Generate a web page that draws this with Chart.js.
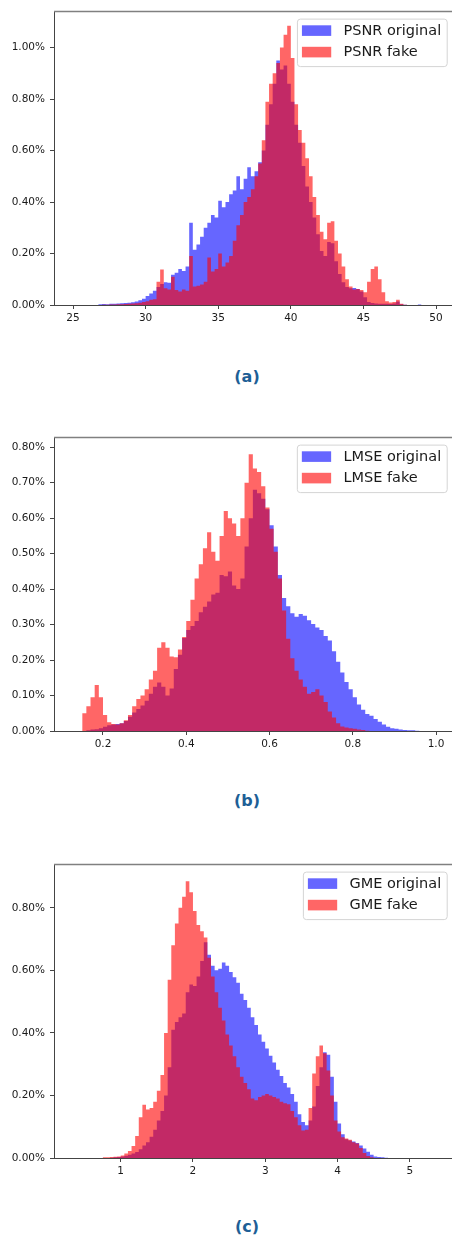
<!DOCTYPE html>
<html>
<head>
<meta charset="utf-8">
<script src="https://cdn.jsdelivr.net/npm/chart.js@4.4.1/dist/chart.umd.min.js"></script>
<style>
  body { margin: 0; background: #fff; width: 452px; height: 1239px; overflow: hidden; position: relative; }
  .panel { position: absolute; left: 0; width: 452px; height: 330px; }
  .caption { position: absolute; left: 200px; width: 94px; text-align: center; font: bold 16px "DejaVu Sans"; color: #1e5f96; line-height: 20px; }
</style>
</head>
<body>
<div class="panel" style="top:0px"><canvas id="psnrChart" width="452" height="330"></canvas></div>
<div class="caption" style="top:367px">(a)</div>
<div class="panel" style="top:426px"><canvas id="lmseChart" width="452" height="330"></canvas></div>
<div class="caption" style="top:791px">(b)</div>
<div class="panel" style="top:853px"><canvas id="gmeChart" width="452" height="330"></canvas></div>
<div class="caption" style="top:1217px">(c)</div>
<script>
// ---- (a) PSNR: left edges of the bins, percent per bin
const psnrBins = [
  26.5, 26.75, 27, 27.25, 27.5, 27.75, 28, 28.25, 28.5, 28.75,
  29, 29.25, 29.5, 29.75, 30, 30.25, 30.5, 30.75, 31, 31.25,
  31.5, 31.75, 32, 32.25, 32.5, 32.75, 33, 33.25, 33.5, 33.75,
  34, 34.25, 34.5, 34.75, 35, 35.25, 35.5, 35.75, 36, 36.25,
  36.5, 36.75, 37, 37.25, 37.5, 37.75, 38, 38.25, 38.5, 38.75,
  39, 39.25, 39.5, 39.75, 40, 40.25, 40.5, 40.75, 41, 41.25,
  41.5, 41.75, 42, 42.25, 42.5, 42.75, 43, 43.25, 43.5, 43.75,
  44, 44.25, 44.5, 44.75, 45, 45.25, 45.5, 45.75, 46, 46.25,
  46.5, 46.75, 47, 47.25, 47.5, 47.75, 48, 48.25, 48.5, 48.75
];
const psnrOriginal = [
  0.000, 0.003, 0.004, 0.003, 0.005, 0.005, 0.006, 0.007, 0.008, 0.009,
  0.011, 0.014, 0.018, 0.024, 0.035, 0.045, 0.055, 0.070, 0.082, 0.088,
  0.086, 0.118, 0.125, 0.140, 0.132, 0.150, 0.320, 0.215, 0.235, 0.265,
  0.300, 0.320, 0.350, 0.340, 0.405, 0.380, 0.400, 0.430, 0.445, 0.500,
  0.450, 0.490, 0.535, 0.500, 0.520, 0.555, 0.600, 0.700, 0.780, 0.860,
  0.950, 0.915, 0.930, 0.860, 0.790, 0.700, 0.630, 0.540, 0.460, 0.400,
  0.340, 0.275, 0.210, 0.190, 0.245, 0.240, 0.170, 0.120, 0.088, 0.070,
  0.065, 0.066, 0.062, 0.052, 0.030, 0.012, 0.008, 0.006, 0.005, 0.005,
  0.005, 0.004, 0.006, 0.014, 0.003, 0.001, 0.000, 0.000, 0.000, 0.002
];
const psnrFake = [
  0.000, 0.000, 0.001, 0.001, 0.002, 0.002, 0.003, 0.003, 0.004, 0.005,
  0.006, 0.007, 0.009, 0.012, 0.015, 0.020, 0.022, 0.090, 0.138, 0.065,
  0.060, 0.110, 0.058, 0.052, 0.060, 0.055, 0.190, 0.072, 0.075, 0.080,
  0.090, 0.185, 0.130, 0.140, 0.200, 0.150, 0.165, 0.190, 0.250, 0.310,
  0.350, 0.400, 0.420, 0.450, 0.500, 0.550, 0.640, 0.790, 0.860, 0.900,
  0.940, 1.000, 1.050, 1.085, 0.960, 0.780, 0.680, 0.630, 0.570, 0.500,
  0.420, 0.350, 0.285, 0.255, 0.320, 0.325, 0.250, 0.200, 0.150, 0.100,
  0.072, 0.060, 0.062, 0.058, 0.050, 0.090, 0.140, 0.150, 0.100, 0.050,
  0.015, 0.010, 0.012, 0.020, 0.005, 0.001, 0.000, 0.000, 0.000, 0.000
];
const psnrXTicks = [25, 30, 35, 40, 45, 50];
const psnrXLabels = ['25', '30', '35', '40', '45', '50'];
const psnrYTicks = [0, 0.2, 0.4, 0.6, 0.8, 1.0];
const psnrYLabels = ['0.00%', '0.20%', '0.40%', '0.60%', '0.80%', '1.00%'];

// ---- (b) LMSE
const lmseBins = [
  0.15, 0.16, 0.17, 0.18, 0.19, 0.20, 0.21, 0.22, 0.23, 0.24,
  0.25, 0.26, 0.27, 0.28, 0.29, 0.30, 0.31, 0.32, 0.33, 0.34,
  0.35, 0.36, 0.37, 0.38, 0.39, 0.40, 0.41, 0.42, 0.43, 0.44,
  0.45, 0.46, 0.47, 0.48, 0.49, 0.50, 0.51, 0.52, 0.53, 0.54,
  0.55, 0.56, 0.57, 0.58, 0.59, 0.60, 0.61, 0.62, 0.63, 0.64,
  0.65, 0.66, 0.67, 0.68, 0.69, 0.70, 0.71, 0.72, 0.73, 0.74,
  0.75, 0.76, 0.77, 0.78, 0.79, 0.80, 0.81, 0.82, 0.83, 0.84,
  0.85, 0.86, 0.87, 0.88, 0.89, 0.90, 0.91, 0.92, 0.93, 0.94,
  0.95, 0.96
];
const lmseOriginal = [
  0.000, 0.002, 0.004, 0.005, 0.008, 0.012, 0.016, 0.018, 0.020, 0.022,
  0.028, 0.040, 0.052, 0.062, 0.072, 0.085, 0.105, 0.125, 0.137, 0.125,
  0.100, 0.120, 0.175, 0.215, 0.262, 0.285, 0.296, 0.310, 0.335, 0.350,
  0.365, 0.385, 0.390, 0.440, 0.436, 0.450, 0.410, 0.400, 0.430, 0.520,
  0.600, 0.680, 0.670, 0.655, 0.625, 0.580, 0.520, 0.440, 0.375, 0.352,
  0.332, 0.322, 0.330, 0.325, 0.312, 0.302, 0.292, 0.285, 0.268, 0.255,
  0.225, 0.195, 0.165, 0.138, 0.118, 0.095, 0.075, 0.060, 0.048, 0.043,
  0.034, 0.026, 0.018, 0.012, 0.008, 0.006, 0.004, 0.003, 0.002, 0.002,
  0.001, 0.000
];
const lmseFake = [
  0.050, 0.070, 0.095, 0.130, 0.095, 0.045, 0.025, 0.020, 0.018, 0.022,
  0.030, 0.045, 0.070, 0.090, 0.100, 0.118, 0.145, 0.170, 0.235, 0.250,
  0.235, 0.210, 0.208, 0.230, 0.265, 0.310, 0.370, 0.430, 0.470, 0.515,
  0.560, 0.505, 0.480, 0.550, 0.620, 0.600, 0.585, 0.550, 0.600, 0.700,
  0.780, 0.740, 0.730, 0.690, 0.630, 0.570, 0.505, 0.430, 0.340, 0.260,
  0.205, 0.170, 0.145, 0.125, 0.105, 0.110, 0.118, 0.100, 0.082, 0.055,
  0.038, 0.022, 0.013, 0.010, 0.008, 0.006, 0.004, 0.003, 0.001, 0.000,
  0.000, 0.000, 0.000, 0.000, 0.000, 0.000, 0.000, 0.000, 0.000, 0.000,
  0.000, 0.000
];
const lmseXTicks = [0.2, 0.4, 0.6, 0.8, 1.0];
const lmseXLabels = ['0.2', '0.4', '0.6', '0.8', '1.0'];
const lmseYTicks = [0, 0.1, 0.2, 0.3, 0.4, 0.5, 0.6, 0.7, 0.8];
const lmseYLabels = ['0.00%', '0.10%', '0.20%', '0.30%', '0.40%', '0.50%', '0.60%', '0.70%', '0.80%'];

// ---- (c) GME
const gmeBins = [
  0.75, 0.80, 0.85, 0.90, 0.95, 1.00, 1.05, 1.10, 1.15, 1.20,
  1.25, 1.30, 1.35, 1.40, 1.45, 1.50, 1.55, 1.60, 1.65, 1.70,
  1.75, 1.80, 1.85, 1.90, 1.95, 2.00, 2.05, 2.10, 2.15, 2.20,
  2.25, 2.30, 2.35, 2.40, 2.45, 2.50, 2.55, 2.60, 2.65, 2.70,
  2.75, 2.80, 2.85, 2.90, 2.95, 3.00, 3.05, 3.10, 3.15, 3.20,
  3.25, 3.30, 3.35, 3.40, 3.45, 3.50, 3.55, 3.60, 3.65, 3.70,
  3.75, 3.80, 3.85, 3.90, 3.95, 4.00, 4.05, 4.10, 4.15, 4.20,
  4.25, 4.30, 4.35, 4.40, 4.45, 4.50, 4.55, 4.60, 4.65, 4.70
];
const gmeOriginal = [
  0.000, 0.000, 0.001, 0.002, 0.003, 0.005, 0.007, 0.010, 0.014, 0.019,
  0.028, 0.040, 0.050, 0.068, 0.090, 0.120, 0.150, 0.200, 0.290, 0.410,
  0.435, 0.450, 0.462, 0.530, 0.555, 0.550, 0.580, 0.630, 0.690, 0.650,
  0.615, 0.600, 0.605, 0.625, 0.615, 0.595, 0.578, 0.560, 0.525, 0.505,
  0.480, 0.450, 0.425, 0.395, 0.372, 0.350, 0.327, 0.305, 0.282, 0.262,
  0.240, 0.225, 0.205, 0.180, 0.140, 0.115, 0.105, 0.120, 0.165, 0.230,
  0.290, 0.338, 0.330, 0.260, 0.180, 0.110, 0.076, 0.060, 0.056, 0.053,
  0.048, 0.040, 0.030, 0.020, 0.010, 0.005, 0.003, 0.002, 0.001, 0.000
];
const gmeFake = [
  0.002, 0.002, 0.003, 0.004, 0.005, 0.008, 0.014, 0.022, 0.038, 0.070,
  0.130, 0.170, 0.155, 0.160, 0.180, 0.215, 0.265, 0.400, 0.570, 0.680,
  0.750, 0.800, 0.835, 0.885, 0.850, 0.790, 0.745, 0.725, 0.705, 0.640,
  0.580, 0.530, 0.480, 0.440, 0.395, 0.360, 0.325, 0.290, 0.260, 0.240,
  0.220, 0.190, 0.185, 0.195, 0.200, 0.205, 0.200, 0.195, 0.190, 0.180,
  0.175, 0.172, 0.150, 0.130, 0.105, 0.088, 0.090, 0.160, 0.270, 0.325,
  0.360, 0.335, 0.280, 0.200, 0.120, 0.085, 0.066, 0.062, 0.058, 0.050,
  0.046, 0.032, 0.016, 0.006, 0.002, 0.000, 0.000, 0.000, 0.000, 0.000
];
const gmeXTicks = [1, 2, 3, 4, 5];
const gmeXLabels = ['1', '2', '3', '4', '5'];
const gmeYTicks = [0, 0.2, 0.4, 0.6, 0.8];
const gmeYLabels = ['0.00%', '0.20%', '0.40%', '0.60%', '0.80%'];

Chart.defaults.font.family = '"DejaVu Sans"';
Chart.defaults.font.size = 10.5;
Chart.defaults.color = '#1a1a1a';

const BLUE = 'rgba(0, 0, 255, 0.6)';
const RED = 'rgba(255, 0, 0, 0.6)';
const AXIS = '#444';

// matplotlib style legend box inside the axes + top spine
const boxLegend = {
  id: 'boxLegend',
  afterDraw(chart) {
    const { ctx, chartArea } = chart;
    const datasets = chart.data.datasets;
    ctx.save();
    ctx.strokeStyle = '#808080';
    ctx.lineWidth = 1.5;
    ctx.beginPath();
    ctx.moveTo(chartArea.left, chartArea.top + 0.25);
    ctx.lineTo(chartArea.right, chartArea.top + 0.25);
    ctx.stroke();

    ctx.font = '14.5px "DejaVu Sans"';
    const textW = Math.max(...datasets.map(d => ctx.measureText(d.label).width));
    const w = 46.6 + textW + 5.5, h = 47.5;
    const right = chartArea.right - 5.3, top = chartArea.top + 7.3;
    const left = right - w;
    ctx.fillStyle = 'rgba(255,255,255,0.8)';
    ctx.strokeStyle = '#d4d4d4';
    ctx.lineWidth = 1;
    ctx.beginPath();
    if (ctx.roundRect) ctx.roundRect(left + 0.5, top + 0.5, w, h, 3);
    else ctx.rect(left + 0.5, top + 0.5, w, h);
    ctx.fill();
    ctx.stroke();
    datasets.forEach((d, i) => {
      const cy = top + 12 + i * 21.5;
      ctx.fillStyle = d.backgroundColor;
      ctx.fillRect(left + 5, cy - 5.3, 29.3, 10.6);
      ctx.fillStyle = '#1a1a1a';
      ctx.textBaseline = 'middle';
      ctx.fillText(d.label, left + 46.6, cy + 0.5);
    });
    ctx.restore();
  }
};

function toSteps(bins, values) {
  const pts = bins.map((b, i) => ({ x: b, y: values[i] }));
  pts.push({ x: bins[bins.length - 1] + (bins[1] - bins[0]), y: 0 });
  return pts;
}

function makeHistogram(id, name, bins, original, fake, xRange, xTicks, xLabels, yMax, yTicks, yLabels) {
  const ctx = document.getElementById(id).getContext('2d');
  return new Chart(ctx, {
    type: 'line',
    data: {
      datasets: [
        {
          label: name + ' original',
          data: toSteps(bins, original),
          backgroundColor: BLUE,
          borderColor: 'rgba(0,0,0,0)',
          borderWidth: 0,
          fill: 'origin',
          stepped: true,
          pointRadius: 0,
          order: 2
        },
        {
          label: name + ' fake',
          data: toSteps(bins, fake),
          backgroundColor: RED,
          borderColor: 'rgba(0,0,0,0)',
          borderWidth: 0,
          fill: 'origin',
          stepped: true,
          pointRadius: 0,
          order: 1
        }
      ]
    },
    options: {
      responsive: false,
      animation: false,
      events: [],
      layout: { padding: { top: 8, left: 0, right: 0, bottom: 0 } },
      plugins: { legend: { display: false }, tooltip: { enabled: false } },
      scales: {
        x: {
          type: 'linear',
          min: xRange[0],
          max: xRange[1],
          afterBuildTicks: (axis) => { axis.ticks = xTicks.map(v => ({ value: v })); },
          afterFit: (axis) => { axis.height = 25; },
          grid: { drawOnChartArea: false, tickLength: 4, color: AXIS },
          border: { color: AXIS, width: 1 },
          ticks: { padding: 3, maxRotation: 0, autoSkip: false, callback: (v, i) => xLabels[i] }
        },
        y: {
          min: 0,
          max: yMax,
          afterBuildTicks: (axis) => { axis.ticks = yTicks.map(v => ({ value: v })); },
          afterFit: (axis) => { axis.width = 54; },
          grid: { drawOnChartArea: false, tickLength: 4, color: AXIS },
          border: { color: AXIS, width: 1 },
          ticks: { padding: 5, autoSkip: false, callback: (v, i) => yLabels[i] }
        }
      }
    },
    plugins: [boxLegend]
  });
}

makeHistogram('psnrChart', 'PSNR', psnrBins, psnrOriginal, psnrFake,
  [23.69, 51.1], psnrXTicks, psnrXLabels, 1.141, psnrYTicks, psnrYLabels);
makeHistogram('lmseChart', 'LMSE', lmseBins, lmseOriginal, lmseFake,
  [0.0823, 1.0384], lmseXTicks, lmseXLabels, 0.828, lmseYTicks, lmseYLabels);
makeHistogram('gmeChart', 'GME', gmeBins, gmeOriginal, gmeFake,
  [0.0768, 5.585], gmeXTicks, gmeXLabels, 0.939, gmeYTicks, gmeYLabels);
</script>
</body>
</html>
